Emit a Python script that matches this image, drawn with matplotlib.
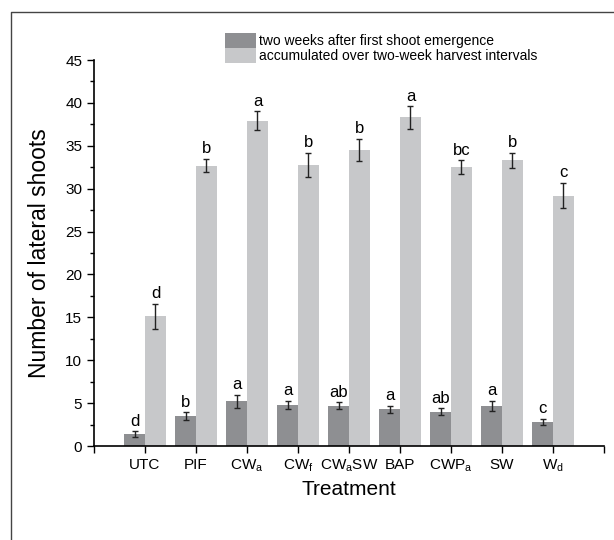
import matplotlib
matplotlib.use("Agg")
import matplotlib.pyplot as plt
from matplotlib.lines import Line2D
from matplotlib.ticker import MultipleLocator
import numpy as np

plt.rcParams['font.family'] = ['Liberation Sans', 'DejaVu Sans']
plt.rcParams['mathtext.default'] = 'regular'

# данные
treatments = ['UTC', 'PIF', 'CW$_a$', 'CW$_f$', 'CW$_a$SW', 'BAP', 'CWP$_a$', 'SW', 'W$_d$']
early = [1.4, 3.5, 5.2, 4.8, 4.7, 4.3, 4.0, 4.7, 2.8]
early_err = [0.3, 0.45, 0.8, 0.5, 0.4, 0.4, 0.4, 0.6, 0.4]
early_letters = ['d', 'b', 'a', 'a', 'ab', 'a', 'ab', 'a', 'c']
accum = [15.1, 32.7, 37.9, 32.8, 34.5, 38.3, 32.5, 33.3, 29.2]
accum_err = [1.5, 0.8, 1.1, 1.4, 1.3, 1.3, 0.8, 0.9, 1.5]
accum_letters = ['d', 'b', 'a', 'b', 'b', 'a', 'bc', 'b', 'c']

dark = '#8e8f92'
light = '#c7c8ca'

fig = plt.figure(figsize=(6.14, 5.40), dpi=100)
ax = fig.add_axes([94/614, 1-446/540, 510/614, 386/540])

x = np.arange(1, len(treatments) + 1)
w = 0.41
b1 = ax.bar(x - w/2, early, w, color=dark, label='two weeks after first shoot emergence')
b2 = ax.bar(x + w/2, accum, w, color=light, label='accumulated over two-week harvest intervals')
ax.errorbar(x - w/2, early, yerr=early_err, fmt='none', ecolor='#222222', elinewidth=1, capsize=2.5, capthick=1)
ax.errorbar(x + w/2, accum, yerr=accum_err, fmt='none', ecolor='#222222', elinewidth=1, capsize=2.5, capthick=1)

for xi, v, e, t in zip(x - w/2, early, early_err, early_letters):
    ax.text(xi, v + e + 0.3, t, ha='center', va='bottom', fontsize=12)
for xi, v, e, t in zip(x + w/2, accum, accum_err, accum_letters):
    ax.text(xi, v + e + 0.3, t, ha='center', va='bottom', fontsize=12)

ax.set_xlim(0, 10)
ax.set_ylim(0, 45)
ax.set_xticks(np.arange(0, 11))
ax.set_xticklabels([''] + treatments + [''], fontsize=11)
ax.yaxis.set_major_locator(MultipleLocator(5))
ax.yaxis.set_minor_locator(MultipleLocator(2.5))
ax.tick_params(axis='y', labelsize=11, length=5, width=1)
ax.tick_params(axis='y', which='minor', length=3, width=1)
ax.tick_params(axis='x', length=5, width=1)
for s in ['top', 'right']:
    ax.spines[s].set_visible(False)
for s in ['left', 'bottom']:
    ax.spines[s].set_linewidth(1.2)

ax.set_xlabel('Treatment', fontsize=15, labelpad=4)
ax.set_ylabel('Number of lateral shoots', fontsize=16.5, labelpad=10)

fig.legend(handles=[b1, b2], loc='upper left', bbox_to_anchor=(218/614, 1-26/540),
           frameon=False, fontsize=10, handlelength=2.2, handleheight=1.25,
           handletextpad=0.25, labelspacing=0.0, borderpad=0)

# рамка вокруг рисунка
fig.add_artist(Line2D([11/614, 11/614, 1], [0, 1-12/540, 1-12/540],
                      transform=fig.transFigure, color='#444444', lw=1))

plt.savefig('out.png', dpi=100)
